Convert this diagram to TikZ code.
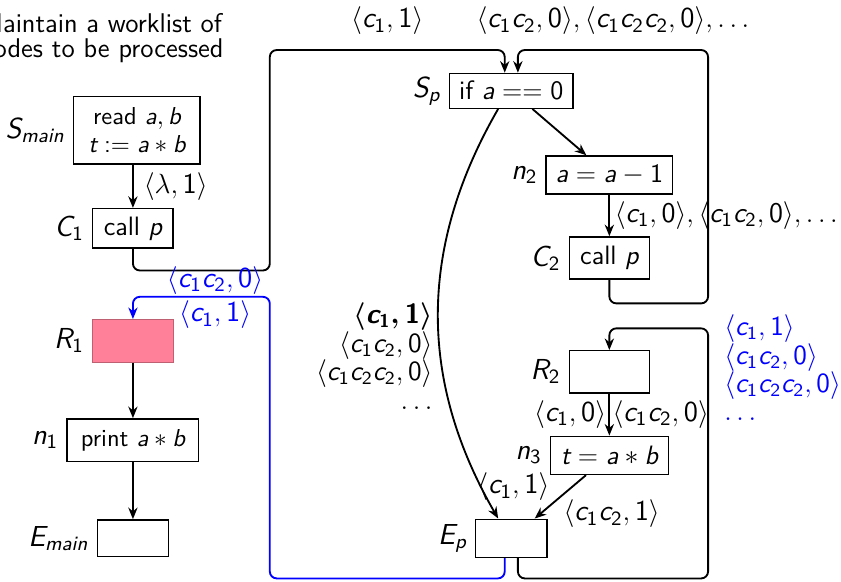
\documentclass[tikz,border=0pt]{standalone}
\usepackage{xcolor}
\usepackage{tikz}
\usetikzlibrary{arrows.meta,positioning,calc}
% sans serif text and italic sans letters in math, as on the slide
\renewcommand{\familydefault}{\sfdefault}
\DeclareSymbolFont{sfit}{TU}{lmss}{m}{sl}
\SetSymbolFont{sfit}{bold}{TU}{lmss}{bx}{sl}
\SetSymbolFont{operators}{normal}{TU}{lmss}{m}{n}
\SetSymbolFont{operators}{bold}{TU}{lmss}{bx}{n}
\DeclareMathSymbol{a}{\mathalpha}{sfit}{`a}
\DeclareMathSymbol{b}{\mathalpha}{sfit}{`b}
\DeclareMathSymbol{c}{\mathalpha}{sfit}{`c}
\DeclareMathSymbol{i}{\mathalpha}{sfit}{`i}
\DeclareMathSymbol{m}{\mathalpha}{sfit}{`m}
\DeclareMathSymbol{n}{\mathalpha}{sfit}{`n}
\DeclareMathSymbol{p}{\mathalpha}{sfit}{`p}
\DeclareMathSymbol{t}{\mathalpha}{sfit}{`t}
\DeclareMathSymbol{C}{\mathalpha}{sfit}{`C}
\DeclareMathSymbol{E}{\mathalpha}{sfit}{`E}
\DeclareMathSymbol{R}{\mathalpha}{sfit}{`R}
\DeclareMathSymbol{S}{\mathalpha}{sfit}{`S}
\definecolor{retpink}{RGB}{255,128,152}
\newcommand{\labfont}{\fontsize{12.5}{12.5}\selectfont}
\newcommand{\listfont}{\fontsize{12}{12.3}\selectfont}
\tikzset{
  stmt/.style={rectangle, draw, semithick, minimum height=0.6cm, inner sep=2pt, font=\fontsize{11.5}{13}\selectfont},
  smallstmt/.style={stmt, font=\fontsize{10.6}{12}\selectfont},
  retbox/.style={stmt, fill=retpink, draw=retpink!75!black, thin},
  lab/.style={font=\labfont},
  bluelab/.style={font=\labfont, text=blue},
  every label/.style={font=\labfont},
  arrow/.style={-{Stealth[length=5pt,width=4pt]}, thick},
  loopline/.style={arrow, rounded corners=3pt},
}

\begin{document}
\begin{tikzpicture}
  \useasboundingbox (0,0) rectangle (12.78,-8.83);

  % Remark in the corner
  \node[anchor=north west, align=left, inner sep=0pt, font=\fontsize{11.7}{10.8}\selectfont] (remark) at (-0.31,-0.20) {Maintain a worklist of\\nodes to be processed};

  % main - left column
  \node[smallstmt, minimum width=1.92cm, minimum height=1.03cm, align=center, label=left:$S_{main}$] (Smain) at (2.08,-1.98) {read $a,b$\\$t:=a*b$};
  \node[stmt, minimum width=1.22cm, label=left:$C_1$] (C1) at (2.02,-3.47) {call $p$};
  \node[retbox, minimum width=1.23cm, minimum height=0.65cm, label=left:$R_1$] (R1) at (2.02,-5.18) {};
  \node[smallstmt, minimum width=2.0cm, minimum height=0.65cm, label=left:$n_1$] (n1) at (2.02,-6.69) {print $a*b$};
  \node[stmt, minimum width=1.08cm, minimum height=0.56cm, label=left:$E_{main}$] (Emain) at (2.02,-8.18) {};

  % procedure p
  \node[stmt, minimum width=1.88cm, minimum height=0.53cm, label=left:$S_p$] (Sp) at (7.77,-1.38) {if $a==0$};
  \node[stmt, minimum width=1.92cm, minimum height=0.58cm, label=left:$n_2$] (n2) at (9.26,-2.66) {$a=a-1$};
  \node[stmt, minimum width=1.22cm, minimum height=0.64cm, label=left:$C_2$] (C2) at (9.26,-3.92) {call $p$};
  \node[stmt, minimum width=1.22cm, minimum height=0.64cm, label=left:$R_2$] (R2) at (9.26,-5.65) {};
  \node[stmt, minimum width=1.79cm, minimum height=0.58cm, label=left:$n_3$] (n3) at (9.26,-6.92) {$t=a*b$};
  \node[stmt, minimum width=1.08cm, minimum height=0.58cm, label=left:$E_p$] (Ep) at (7.77,-8.18) {};

  % corners of the call and return edges
  \coordinate (loopL) at (4.10,-0.76);
  \coordinate (loopR) at (10.76,-0.76);
  \coordinate (botL) at (4.10,-8.79);
  \coordinate (botR) at (10.76,-8.79);

  % intraprocedural edges
  \draw[arrow] (Smain.south -| C1.north) -- node[lab, right=1pt] {$\langle\lambda,1\rangle$} (C1.north);
  \draw[arrow] (R1) -- (n1);
  \draw[arrow] (n1) -- (Emain);
  \draw[arrow] (Sp) -- (n2);
  \draw[arrow] (n2) -- node[lab, right, inner sep=2pt, font=\fontsize{12.3}{12.3}\selectfont] {$\langle c_1,0\rangle,\langle c_1c_2,0\rangle,\ldots$} (C2);
  \draw[arrow] (R2) -- node[lab, left, inner sep=1pt] {$\langle c_1,0\rangle$} node[lab, right, inner sep=1pt] {$\langle c_1c_2,0\rangle$} (n3);
  \draw[arrow] (n3) -- node[lab, below right, inner sep=1pt] {$\langle c_1c_2,1\rangle$} (Ep);
  \draw[arrow] ([xshift=-0.2cm]Sp.south) to[bend right=30] ([xshift=-0.2cm]Ep.north);

  % call edges
  \draw[loopline] (C1.south) -- ++(0,-0.33) -| (loopL) -| node[lab, pos=0.25, above=0.1cm] {$\langle c_1,1\rangle$} ([xshift=-0.1cm]Sp.north);
  \draw[loopline] (C2.south) -- ++(0,-0.36) -| (loopR) -| node[lab, pos=0.25, above=0.1cm] {$\langle c_1c_2,0\rangle,\langle c_1c_2c_2,0\rangle,\ldots$} ([xshift=0.1cm]Sp.north);

  % return edges
  \draw[loopline] ([xshift=0.1cm]Ep.south) |- (botR) -- ++(0,3.8) -| (R2.north);
  \draw[loopline, blue] ([xshift=-0.1cm]Ep.south) |- (botL) -- ++(0,4.28) -| node[bluelab, pos=0.2, above, inner sep=0.5pt] {$\langle c_1c_2,0\rangle$} node[bluelab, pos=0.2, below, inner sep=1.5pt] {$\langle c_1,1\rangle$} (R1.north);

  % values reaching E_p
  \node[lab, anchor=east, align=right, inner sep=0pt, font=\listfont] (reachEp) at (6.58,-5.41) {{\boldmath$\langle c_1,1\rangle$}\\$\langle c_1c_2,0\rangle$\\$\langle c_1c_2c_2,0\rangle$\\$\ldots$};
  \node[lab] (endval) at (7.80,-7.40) {$\langle c_1,1\rangle$};
  \node[bluelab, anchor=west, align=left, inner sep=0pt, font=\listfont] (retvals) at (11.0,-5.59) {$\langle c_1,1\rangle$\\$\langle c_1c_2,0\rangle$\\$\langle c_1c_2c_2,0\rangle$\\$\ldots$};
\end{tikzpicture}
\end{document}
